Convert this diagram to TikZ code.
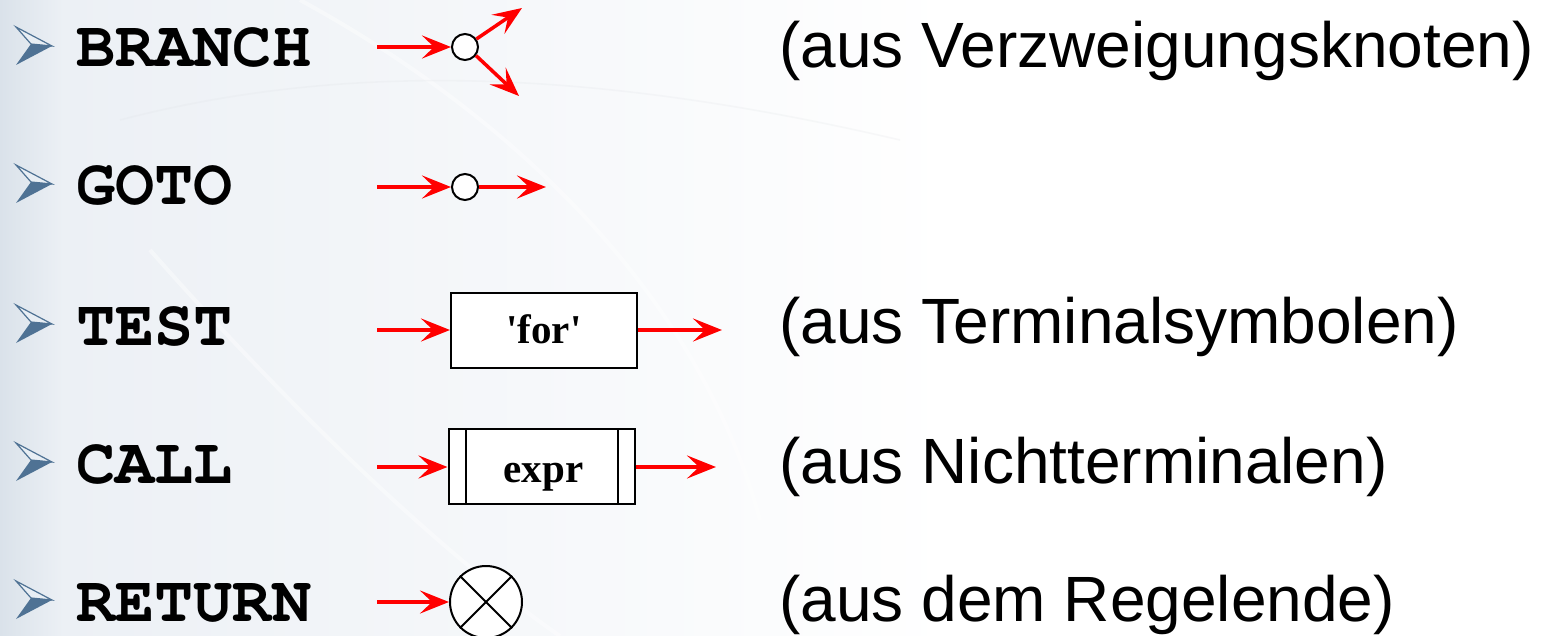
\documentclass[tikz,border=0pt]{standalone}
\usepackage{fontspec}
\setmainfont{Liberation Sans}
\newfontfamily\cursorf{TeX Gyre Cursor}
\newfontfamily\serifb{Liberation Serif}
\usetikzlibrary{arrows.meta}
\definecolor{arrred}{RGB}{255,0,0}
\definecolor{bulletdark}{RGB}{79,114,148}
\definecolor{bulletlight}{RGB}{232,238,244}
\definecolor{bgleft}{RGB}{218,226,234}
\definecolor{bgmid}{RGB}{236,240,245}
\tikzset{
  lab/.style={inner sep=0pt, anchor=base west, font=\cursorf\bfseries\fontsize{32.6}{36}\selectfont},
  desc/.style={inner sep=0pt, anchor=base west, font=\fontsize{32}{36}\selectfont},
  flow/.style={draw=arrred, line width=1.75pt, -{Stealth[length=14.5pt,width=11.5pt,inset=6pt]}},
  knot/.style={circle, draw=black, fill=white, line width=1pt, minimum size=13pt, inner sep=0pt},
  endknot/.style={circle, draw=black, fill=white, line width=1pt, minimum size=36pt, inner sep=0pt},
  termbox/.style={rectangle, draw=black, fill=white, line width=1pt, minimum width=93pt, minimum height=37.5pt, inner sep=0pt},
  boxtext/.style={inner sep=0pt, anchor=base, font=\serifb\bfseries\fontsize{20.5}{24}\selectfont},
}
\newcommand{\bulletmark}[1]{%
  \fill[bulletlight] (16,#1-40) -- (52,#1-21) -- (31,#1-23) -- cycle;
  \draw[bulletdark, line width=0.6pt, line join=miter] (16,#1-40) -- (52,#1-21) -- (31,#1-23) -- cycle;
  \fill[bulletdark] (16,#1-2) -- (52,#1-21) -- (31,#1-23) -- cycle;
}
\begin{document}
\begin{tikzpicture}[x=0.5pt, y=-0.5pt]
\useasboundingbox (0,0) rectangle (1545,636);
% background
\fill[white] (0,0) rectangle (1545,636);
\fill[left color=bgmid, right color=white] (63,0) rectangle (950,636);
\fill[left color=bgleft, right color=bgmid] (0,0) rectangle (63,636);
\draw[white, line width=2pt, opacity=0.4] (150,250) .. controls (300,420) and (450,560) .. (560,636);
\draw[white, line width=2pt, opacity=0.4] (300,0) .. controls (520,120) and (700,300) .. (760,520);
\draw[bgmid!85!gray, line width=0.8pt, opacity=0.2] (120,120) .. controls (350,60) and (600,70) .. (900,140);
% bullets
\bulletmark{67}
\bulletmark{205}
\bulletmark{345}
\bulletmark{483}
\bulletmark{621}
% labels
\node[lab] (lbranch) at (76,67) {BRANCH};
\node[lab] (lgoto) at (76,205) {GOTO};
\node[lab] (ltest) at (76,345) {TEST};
\node[lab] (lcall) at (76,483) {CALL};
\node[lab] (lreturn) at (76,621) {RETURN};
% descriptions
\node[desc] (dbranch) at (779,68) {(aus Verzweigungsknoten)};
\node[desc] (dtest) at (779,343) {(aus Terminalsymbolen)};
\node[desc] (dcall) at (779,483) {(aus Nichtterminalen)};
\node[desc] (dreturn) at (779,621) {(aus dem Regelende)};
% BRANCH
\coordinate (bin) at (377,47);
\node[knot] (bk) at (465,47) {};
\coordinate (bup) at (522,8);
\coordinate (bdown) at (519,96);
\draw[flow] (bin) -- (bk.west);
\draw[flow] (bk.35) -- (bup);
\draw[flow] (bk.-38) -- (bdown);
% GOTO
\coordinate (gin) at (377,187);
\node[knot] (gk) at (465,187) {};
\coordinate (gout) at (546,187);
\draw[flow] (gin) -- (gk.west);
\draw[flow] (gk.east) -- (gout);
% TEST
\coordinate (tin) at (377,330);
\node[termbox] (tbox) at (544,330.5) {};
\node[boxtext] (ttext) at (544,343) {'for'};
\coordinate (tout) at (722,330);
\draw[flow] (tin) -- (tin -| tbox.west);
\draw[flow] (tbox.east |- tout) -- (tout);
% CALL
\coordinate (cin) at (377,467);
\node[termbox] (cbox) at (541.5,466.5) {};
\node[boxtext] (ctext) at (543.5,482) {expr};
\draw[line width=1pt] ([xshift=9pt]cbox.north west) -- ([xshift=9pt]cbox.south west);
\draw[line width=1pt] ([xshift=-9pt]cbox.north east) -- ([xshift=-9pt]cbox.south east);
\coordinate (cout) at (716,467);
\draw[flow] (cin) -- (cin -| cbox.west);
\draw[flow] (cbox.east |- cout) -- (cout);
% RETURN
\coordinate (rin) at (377,602);
\node[endknot] (rk) at (486,602) {};
\draw[line width=1pt] (rk.45) -- (rk.225);
\draw[line width=1pt] (rk.135) -- (rk.315);
\draw[flow] (rin) -- (rk.west);
\end{tikzpicture}
\end{document}
